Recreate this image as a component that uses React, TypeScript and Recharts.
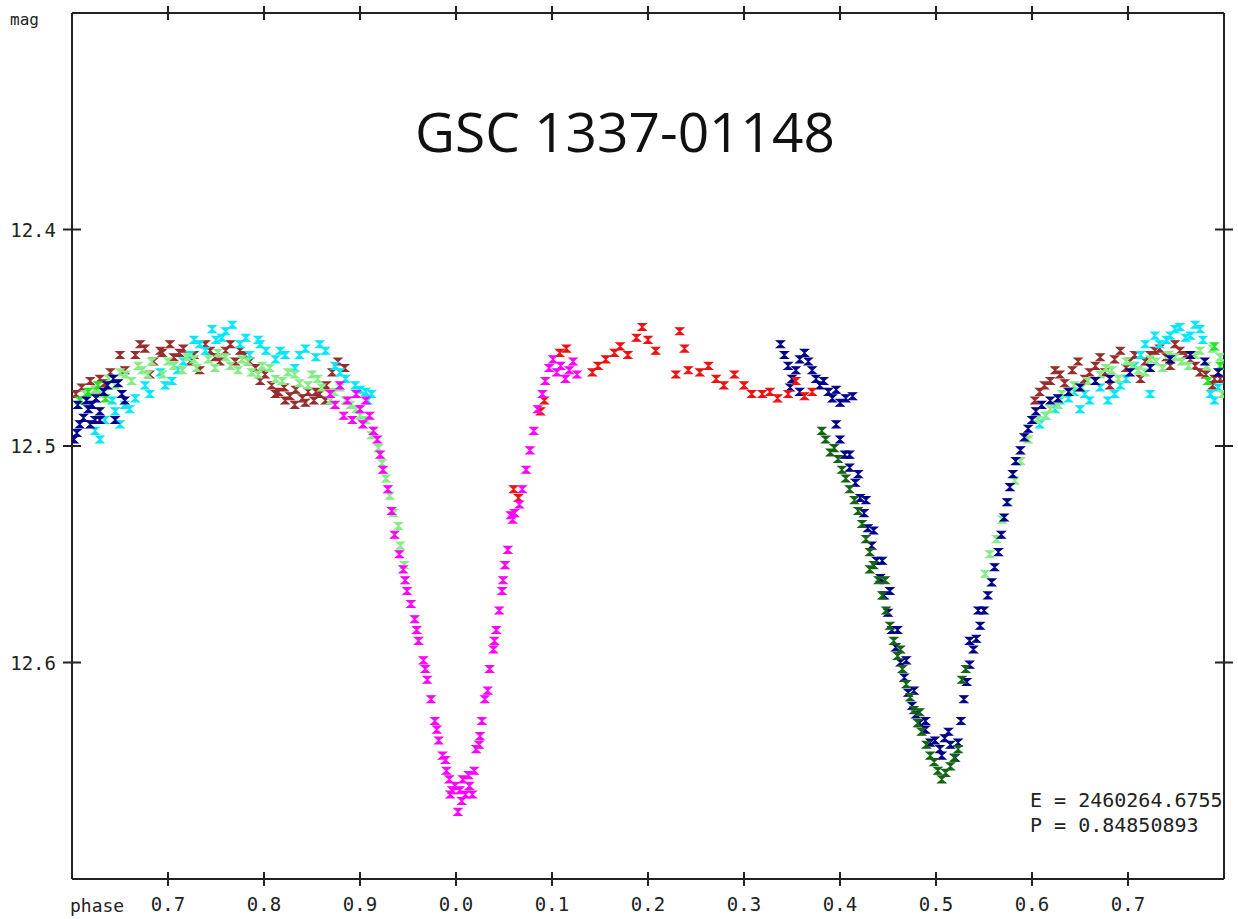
import { ScatterChart, Scatter, XAxis, YAxis } from "recharts";

// phase ticks run from -0.3 to 0.7, printed folded into 0..1
const xTicks = [-0.3, -0.2, -0.1, 0, 0.1, 0.2, 0.3, 0.4, 0.5, 0.6, 0.7];
const xTickLabels = ["0.7", "0.8", "0.9", "0.0", "0.1", "0.2", "0.3", "0.4", "0.5", "0.6", "0.7"];
const yTicks = [12.4, 12.5, 12.6];
const yTickLabels = ["12.4", "12.5", "12.6"];

// [phase, mag]
const brown: [number, number][] = [
  [-0.396, 12.476], [-0.39, 12.473], [-0.381, 12.47], [-0.371, 12.469], [-0.36, 12.466],
  [-0.345, 12.465], [-0.334, 12.458], [-0.324, 12.455], [-0.315, 12.461], [-0.306, 12.457],
  [-0.294, 12.459], [-0.284, 12.455], [-0.273, 12.458], [-0.261, 12.453], [-0.251, 12.459],
  [-0.24, 12.456], [-0.23, 12.461], [-0.22, 12.458], [-0.209, 12.464], [-0.199, 12.467],
  [-0.192, 12.472], [-0.185, 12.475], [-0.179, 12.473], [-0.173, 12.477], [-0.167, 12.474],
  [-0.16, 12.478], [-0.154, 12.475], [-0.148, 12.479], [-0.142, 12.476], [-0.135, 12.472],
  [-0.129, 12.466], [-0.123, 12.461], [-0.116, 12.464], [-0.319, 12.467], [-0.267, 12.465],
  [-0.235, 12.453], [-0.204, 12.47],
  [-0.35, 12.458], [-0.329, 12.453], [-0.308, 12.456], [-0.298, 12.453], [-0.288, 12.457],
  [-0.277, 12.461], [-0.256, 12.456], [-0.246, 12.461], [-0.225, 12.456], [-0.215, 12.461],
  [-0.188, 12.476], [-0.178, 12.479], [-0.168, 12.481], [-0.157, 12.48], [-0.146, 12.475],
  [-0.136, 12.479], [-0.375, 12.474], [-0.366, 12.471],
  [0.608, 12.475], [0.619, 12.47], [0.629, 12.467], [0.642, 12.465], [0.655, 12.469],
  [0.666, 12.463], [0.676, 12.466], [0.686, 12.46], [0.698, 12.464], [0.707, 12.458],
  [0.718, 12.461], [0.728, 12.456], [0.74, 12.459], [0.749, 12.453], [0.76, 12.458],
  [0.77, 12.463], [0.781, 12.467], [0.788, 12.472], [0.796, 12.469], [0.681, 12.472],
  [0.713, 12.469],
  [0.603, 12.479], [0.613, 12.472], [0.624, 12.465], [0.634, 12.471], [0.648, 12.461],
  [0.66, 12.466], [0.671, 12.459], [0.692, 12.456], [0.702, 12.461], [0.723, 12.458],
  [0.733, 12.455], [0.744, 12.463], [0.754, 12.456], [0.765, 12.46], [0.775, 12.466],
  [0.79, 12.469],
];

const cyan: [number, number][] = [
  [-0.376, 12.493], [-0.366, 12.488], [-0.355, 12.484], [-0.345, 12.481], [-0.334, 12.478],
  [-0.324, 12.472], [-0.308, 12.466], [-0.296, 12.47], [-0.284, 12.461], [-0.273, 12.451],
  [-0.261, 12.456], [-0.254, 12.446], [-0.244, 12.45], [-0.233, 12.444], [-0.225, 12.453],
  [-0.215, 12.458], [-0.206, 12.451], [-0.198, 12.456], [-0.188, 12.46], [-0.178, 12.458],
  [-0.168, 12.464], [-0.157, 12.455], [-0.146, 12.459], [-0.136, 12.456], [-0.126, 12.463],
  [-0.115, 12.469], [-0.105, 12.472], [-0.094, 12.475], [-0.088, 12.476], [-0.358, 12.479],
  [-0.371, 12.497], [-0.35, 12.49], [-0.34, 12.483], [-0.319, 12.476], [-0.303, 12.472],
  [-0.29, 12.465], [-0.277, 12.458], [-0.267, 12.453], [-0.25, 12.451], [-0.24, 12.447],
  [-0.219, 12.45], [-0.204, 12.453], [-0.183, 12.456], [-0.163, 12.458], [-0.142, 12.453],
  [-0.121, 12.466], [-0.1, 12.474], [-0.092, 12.479],
  [0.614, 12.486], [0.629, 12.479], [0.644, 12.475], [0.66, 12.479], [0.671, 12.473],
  [0.686, 12.476], [0.698, 12.469], [0.707, 12.463], [0.718, 12.453], [0.728, 12.449],
  [0.74, 12.451], [0.749, 12.446], [0.76, 12.45], [0.77, 12.444], [0.778, 12.451],
  [0.786, 12.476], [0.794, 12.473], [0.65, 12.483], [0.723, 12.476],
  [0.608, 12.49], [0.624, 12.483], [0.638, 12.478], [0.655, 12.476], [0.679, 12.479],
  [0.692, 12.472], [0.713, 12.458], [0.733, 12.453], [0.744, 12.449], [0.754, 12.445],
  [0.765, 12.449], [0.775, 12.446], [0.79, 12.479],
];

const lightGreen: [number, number][] = [
  [-0.386, 12.476], [-0.376, 12.474], [-0.362, 12.469], [-0.35, 12.466], [-0.338, 12.47],
  [-0.327, 12.465], [-0.317, 12.461], [-0.306, 12.467], [-0.294, 12.463], [-0.28, 12.459],
  [-0.27, 12.464], [-0.258, 12.46], [-0.248, 12.457], [-0.235, 12.463], [-0.223, 12.46],
  [-0.213, 12.466], [-0.202, 12.463], [-0.188, 12.469], [-0.175, 12.466], [-0.163, 12.471],
  [-0.15, 12.467], [-0.14, 12.473], [-0.127, 12.475], [-0.115, 12.479], [-0.104, 12.483],
  [-0.094, 12.488], [-0.088, 12.495],
  [-0.381, 12.481], [-0.369, 12.476], [-0.355, 12.472], [-0.344, 12.467], [-0.331, 12.463],
  [-0.321, 12.467], [-0.3, 12.461], [-0.285, 12.465], [-0.273, 12.46], [-0.251, 12.464],
  [-0.24, 12.459], [-0.227, 12.465], [-0.217, 12.461], [-0.206, 12.467], [-0.194, 12.464],
  [-0.181, 12.47], [-0.168, 12.467], [-0.154, 12.472], [-0.144, 12.469], [-0.131, 12.479],
  [-0.121, 12.473], [-0.11, 12.481], [-0.1, 12.486],
  [-0.081, 12.501], [-0.077, 12.508], [-0.073, 12.515], [-0.069, 12.523], [-0.065, 12.531],
  [-0.06, 12.537], [-0.058, 12.546], [-0.054, 12.555],
  [0.551, 12.559], [0.556, 12.55], [0.563, 12.543], [0.569, 12.534], [0.575, 12.526],
  [0.582, 12.516], [0.588, 12.507], [0.596, 12.497], [0.606, 12.488], [0.619, 12.483],
  [0.631, 12.476], [0.644, 12.472], [0.658, 12.47], [0.671, 12.467], [0.683, 12.465],
  [0.698, 12.461], [0.711, 12.465], [0.723, 12.46], [0.736, 12.464], [0.749, 12.459],
  [0.763, 12.463], [0.775, 12.456], [0.788, 12.455], [0.796, 12.459],
  [0.614, 12.486], [0.627, 12.481], [0.64, 12.475], [0.652, 12.473], [0.666, 12.47],
  [0.677, 12.464], [0.69, 12.469], [0.704, 12.463], [0.718, 12.466], [0.729, 12.461],
  [0.742, 12.458], [0.756, 12.461], [0.77, 12.458], [0.782, 12.463], [0.798, 12.476],
];

const green: [number, number][] = [
  [-0.392, 12.479], [-0.383, 12.475], [-0.373, 12.472], [-0.365, 12.478],
  [0.79, 12.454], [0.796, 12.463], [0.783, 12.47],
];

const navy: [number, number][] = [
  [-0.398, 12.497], [-0.395, 12.494], [-0.392, 12.49], [-0.388, 12.487], [-0.383, 12.483],
  [-0.379, 12.481], [-0.375, 12.478], [-0.371, 12.484], [-0.367, 12.475], [-0.363, 12.472],
  [-0.357, 12.469], [-0.352, 12.471], [-0.394, 12.481], [-0.385, 12.479], [-0.376, 12.488],
  [-0.355, 12.488], [-0.348, 12.476], [-0.381, 12.49], [-0.371, 12.488], [-0.345, 12.479],
  [0.338, 12.453], [0.342, 12.458], [0.346, 12.463], [0.35, 12.469], [0.354, 12.465],
  [0.358, 12.46], [0.363, 12.457], [0.367, 12.461], [0.371, 12.465], [0.375, 12.469],
  [0.379, 12.472], [0.383, 12.47], [0.388, 12.475], [0.392, 12.478], [0.396, 12.474],
  [0.4, 12.48], [0.406, 12.478], [0.413, 12.477], [0.348, 12.473], [0.358, 12.475],
  [0.396, 12.49], [0.4, 12.497], [0.405, 12.504], [0.41, 12.51], [0.416, 12.517],
  [0.421, 12.524], [0.425, 12.531], [0.429, 12.538], [0.433, 12.546], [0.438, 12.553],
  [0.442, 12.561], [0.446, 12.569], [0.45, 12.577], [0.454, 12.585], [0.458, 12.593],
  [0.463, 12.6], [0.467, 12.607], [0.471, 12.614], [0.475, 12.62], [0.479, 12.624],
  [0.483, 12.628], [0.489, 12.631], [0.494, 12.637], [0.499, 12.636], [0.504, 12.64],
  [0.509, 12.635], [0.515, 12.638], [0.52, 12.644], [0.523, 12.637], [0.526, 12.627],
  [0.529, 12.617], [0.532, 12.609], [0.535, 12.601], [0.539, 12.594], [0.542, 12.589],
  [0.546, 12.583], [0.55, 12.576], [0.554, 12.569], [0.558, 12.563], [0.561, 12.556],
  [0.565, 12.549], [0.568, 12.541], [0.571, 12.533], [0.574, 12.526], [0.577, 12.519],
  [0.58, 12.513], [0.583, 12.507], [0.588, 12.502], [0.592, 12.496], [0.596, 12.492],
  [0.6, 12.488], [0.604, 12.484], [0.61, 12.481], [0.619, 12.479], [0.627, 12.478],
  [0.638, 12.475], [0.65, 12.473], [0.666, 12.47], [0.681, 12.469], [0.702, 12.466],
  [0.723, 12.464], [0.744, 12.46], [0.765, 12.458], [0.78, 12.461], [0.794, 12.466],
  [0.506, 12.643], [0.513, 12.632],
  [0.41, 12.504], [0.419, 12.513], [0.427, 12.525], [0.435, 12.539], [0.444, 12.553],
  [0.452, 12.567], [0.46, 12.585], [0.469, 12.599], [0.477, 12.613], [0.489, 12.627],
  [0.535, 12.59], [0.544, 12.576],
];

const darkGreen: [number, number][] = [
  [0.381, 12.493], [0.385, 12.497], [0.39, 12.503], [0.394, 12.501], [0.398, 12.506],
  [0.402, 12.511], [0.406, 12.515], [0.41, 12.52], [0.415, 12.525], [0.419, 12.53],
  [0.423, 12.536], [0.427, 12.543], [0.431, 12.549], [0.435, 12.555], [0.44, 12.562],
  [0.444, 12.569], [0.448, 12.576], [0.452, 12.583], [0.456, 12.59], [0.46, 12.597],
  [0.465, 12.603], [0.469, 12.61], [0.473, 12.616], [0.477, 12.622], [0.481, 12.628],
  [0.485, 12.632], [0.49, 12.638], [0.494, 12.643], [0.498, 12.646], [0.502, 12.65],
  [0.506, 12.654], [0.51, 12.651], [0.515, 12.648], [0.519, 12.644], [0.523, 12.64],
  [0.527, 12.608], [0.531, 12.603], [0.431, 12.557], [0.447, 12.562], [0.463, 12.594],
  [0.483, 12.623],
];

const red: [number, number][] = [
  [0.06, 12.52], [0.065, 12.524], [0.088, 12.484], [0.092, 12.479], [0.108, 12.457],
  [0.115, 12.455], [0.142, 12.466], [0.148, 12.463], [0.156, 12.46], [0.165, 12.457],
  [0.171, 12.454], [0.179, 12.458], [0.188, 12.45], [0.194, 12.445], [0.2, 12.451],
  [0.208, 12.456], [0.233, 12.447], [0.238, 12.455], [0.229, 12.467], [0.242, 12.465],
  [0.254, 12.466], [0.263, 12.463], [0.271, 12.469], [0.279, 12.472], [0.29, 12.467],
  [0.3, 12.472], [0.308, 12.476], [0.319, 12.476], [0.327, 12.475], [0.335, 12.478],
  [0.346, 12.476], [0.354, 12.47], [0.363, 12.477], [0.371, 12.475],
];

const magenta: [number, number][] = [
  [-0.131, 12.476], [-0.126, 12.481], [-0.121, 12.472], [-0.117, 12.486], [-0.113, 12.479],
  [-0.108, 12.488], [-0.104, 12.476], [-0.1, 12.483], [-0.097, 12.49], [-0.094, 12.479],
  [-0.09, 12.486], [-0.086, 12.493],
  [-0.082, 12.497], [-0.079, 12.504], [-0.076, 12.511], [-0.071, 12.52], [-0.067, 12.53],
  [-0.064, 12.541], [-0.059, 12.55], [-0.055, 12.557], [-0.051, 12.567], [-0.047, 12.573],
  [-0.043, 12.58], [-0.039, 12.59], [-0.034, 12.599], [-0.03, 12.608], [-0.026, 12.617],
  [-0.022, 12.627], [-0.018, 12.636], [-0.014, 12.643], [-0.01, 12.65], [-0.007, 12.654],
  [-0.004, 12.659], [-0.001, 12.657], [0.002, 12.669], [0.004, 12.659], [0.007, 12.654],
  [0.01, 12.661], [0.014, 12.657], [0.017, 12.661], [0.019, 12.65], [0.021, 12.64],
  [0.024, 12.638], [0.027, 12.627], [0.03, 12.617], [0.033, 12.613], [0.035, 12.603],
  [0.039, 12.594], [0.042, 12.585], [0.045, 12.576], [0.048, 12.567], [0.051, 12.555],
  [0.054, 12.548], [0.057, 12.532], [0.061, 12.531], [0.066, 12.527], [0.069, 12.52],
  [0.073, 12.511], [0.077, 12.502], [0.081, 12.493], [0.085, 12.483], [0.09, 12.476],
  [0.093, 12.47], [0.097, 12.464], [0.101, 12.46], [0.105, 12.466], [0.109, 12.463],
  [0.114, 12.469], [0.118, 12.465], [0.122, 12.461], [0.126, 12.467],
  [-0.011, 12.645], [-0.006, 12.661], [0.006, 12.664], [0.013, 12.652],
  [-0.053, 12.562], [-0.041, 12.585], [-0.032, 12.603], [-0.02, 12.631],
  [0.025, 12.634], [0.04, 12.59], [0.049, 12.562], [0.059, 12.534],
];

const series = [
  { name: "brown", color: "#962d2d", points: brown },
  { name: "cyan", color: "#00e8ff", points: cyan },
  { name: "lightGreen", color: "#86ec86", points: lightGreen },
  { name: "green", color: "#22e622", points: green },
  { name: "navy", color: "#00008b", points: navy },
  { name: "darkGreen", color: "#146414", points: darkGreen },
  { name: "red", color: "#f01010", points: red },
  { name: "magenta", color: "#ff00ff", points: magenta },
];

const AXIS = "#222";
const MONO = "'DejaVu Sans Mono', monospace";

const Hourglass = (props: any) => {
  const { cx, cy, fill } = props;
  if (cx == null || cy == null) return null;
  return (
    <path
      d={`M${cx - 4},${cy - 3.5}H${cx + 4}L${cx - 4},${cy + 3.5}H${cx + 4}Z`}
      fill={fill}
      stroke={fill}
      strokeWidth={1.1}
    />
  );
};

const BottomTick = (props: any) => {
  const { x, y, index } = props;
  return (
    <g>
      <line x1={x} x2={x} y1={y - 7} y2={y + 7} stroke={AXIS} strokeWidth={2} />
      <text x={x} y={y + 32} textAnchor="middle" fontFamily={MONO} fontSize={19} fill="#222">
        {xTickLabels[index]}
      </text>
    </g>
  );
};

const TopTick = (props: any) => {
  const { x, y } = props;
  return <line x1={x} x2={x} y1={y - 7} y2={y + 7} stroke={AXIS} strokeWidth={2} />;
};

const LeftTick = (props: any) => {
  const { x, y, index } = props;
  return (
    <g>
      <line x1={x - 9} x2={x + 9} y1={y} y2={y} stroke={AXIS} strokeWidth={2} />
      <text x={x - 16} y={y + 7} textAnchor="end" fontFamily={MONO} fontSize={19} fill="#222">
        {yTickLabels[index]}
      </text>
    </g>
  );
};

const RightTick = (props: any) => {
  const { x, y } = props;
  return <line x1={x - 9} x2={x + 9} y1={y} y2={y} stroke={AXIS} strokeWidth={2} />;
};

export default function App() {
  return (
    <div style={{ position: "absolute", left: 0, top: 0, width: 1238, height: 919, background: "#fff" }}>
      <ScatterChart width={1238} height={919} margin={{ top: 0, right: 0, bottom: 0, left: 0 }}>
        <XAxis
          type="number"
          dataKey="phase"
          xAxisId="bottom"
          orientation="bottom"
          height={40}
          domain={[-0.4, 0.8]}
          ticks={xTicks}
          allowDataOverflow
          tickSize={0}
          tickMargin={0}
          tickLine={false}
          axisLine={{ stroke: AXIS, strokeWidth: 2 }}
          tick={<BottomTick />}
          interval={0}
        />
        <XAxis
          type="number"
          dataKey="phase"
          xAxisId="top"
          orientation="top"
          height={13}
          domain={[-0.4, 0.8]}
          ticks={xTicks}
          allowDataOverflow
          tickSize={0}
          tickMargin={0}
          tickLine={false}
          axisLine={{ stroke: AXIS, strokeWidth: 2 }}
          tick={<TopTick />}
          interval={0}
        />
        <YAxis
          type="number"
          dataKey="mag"
          yAxisId="left"
          orientation="left"
          width={72}
          domain={[12.3, 12.7]}
          reversed
          ticks={yTicks}
          allowDataOverflow
          tickSize={0}
          tickMargin={0}
          tickLine={false}
          axisLine={{ stroke: AXIS, strokeWidth: 2 }}
          tick={<LeftTick />}
          interval={0}
        />
        <YAxis
          type="number"
          dataKey="mag"
          yAxisId="right"
          orientation="right"
          width={14}
          domain={[12.3, 12.7]}
          reversed
          ticks={yTicks}
          allowDataOverflow
          tickSize={0}
          tickMargin={0}
          tickLine={false}
          axisLine={{ stroke: AXIS, strokeWidth: 2 }}
          tick={<RightTick />}
          interval={0}
        />
        {series.map((s) => (
          <Scatter
            key={s.name}
            name={s.name}
            xAxisId="bottom"
            yAxisId="left"
            data={s.points.map(([phase, mag]) => ({ phase, mag }))}
            fill={s.color}
            shape={<Hourglass />}
            isAnimationActive={false}
          />
        ))}
        <Scatter xAxisId="top" yAxisId="right" data={[]} isAnimationActive={false} />
      </ScatterChart>
      <svg
        width={1238}
        height={919}
        style={{ position: "absolute", left: 0, top: 0, pointerEvents: "none" }}
      >
        <text x={10} y={25} fontFamily={MONO} fontSize={16} fill="#222">mag</text>
        <text x={70} y={912} fontFamily={MONO} fontSize={18} fill="#222">phase</text>
        <text x={625} y={152} textAnchor="middle" fontFamily="'Open Sans', sans-serif" fontSize={55} fill="#111">
          GSC 1337-01148
        </text>
        <text x={1030} y={807} fontFamily={MONO} fontSize={20} fill="#222">E = 2460264.6755</text>
        <text x={1030} y={832} fontFamily={MONO} fontSize={20} fill="#222">P = 0.84850893</text>
      </svg>
    </div>
  );
}
